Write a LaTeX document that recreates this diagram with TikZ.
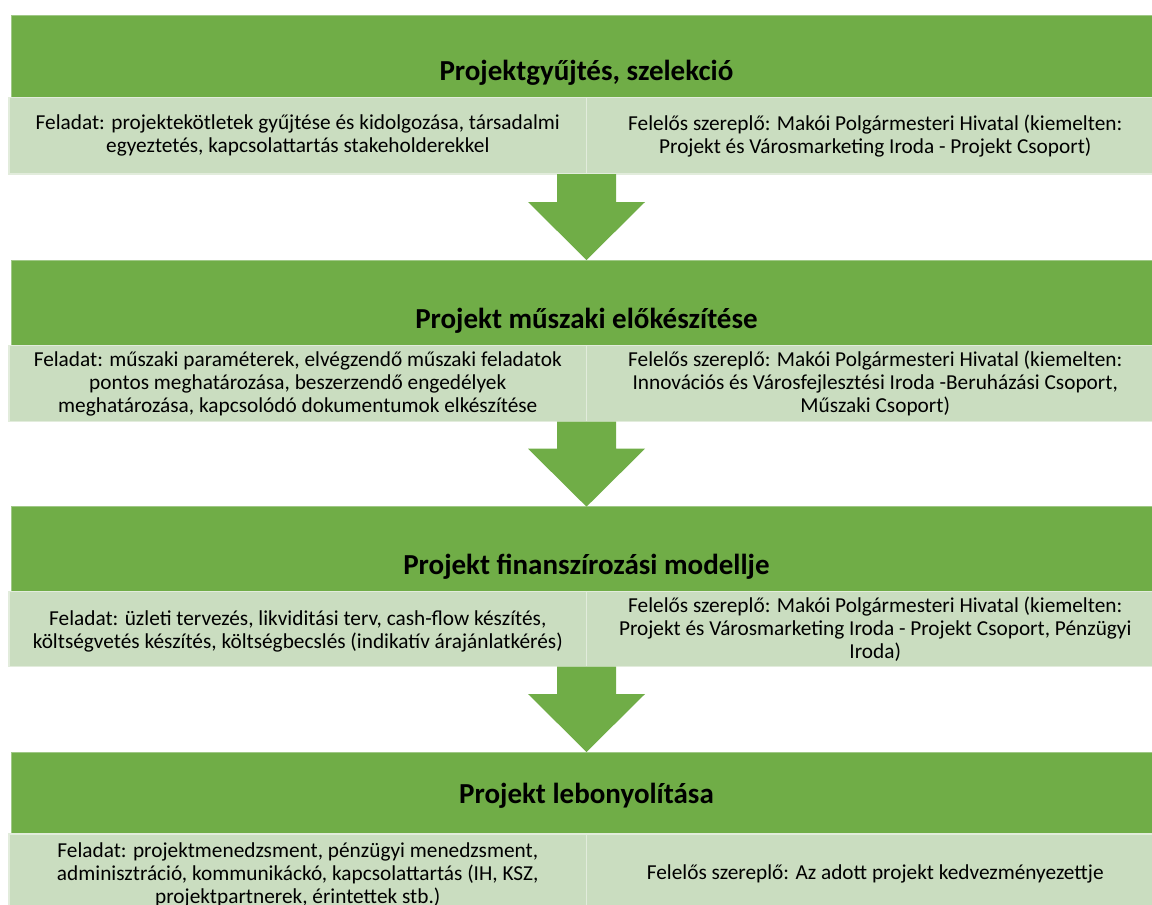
\documentclass[tikz,border=0pt]{standalone}
\usepackage{fontspec}
\setmainfont{Carlito}
\usetikzlibrary{calc}
\definecolor{band}{RGB}{112,173,71}
\definecolor{cell}{RGB}{202,221,192}
\definecolor{cellline}{RGB}{226,236,220}
\definecolor{bandline}{RGB}{160,200,135}
\begin{document}
\begin{tikzpicture}[x=1pt,y=-1pt,
  bandbox/.style={fill=band, draw=bandline, line width=0.8pt, inner sep=0pt, outer sep=0pt,
    minimum width=1151pt, anchor=north west},
  cellbox/.style={fill=cell, draw=cellline, line width=1.2pt, inner sep=0pt, outer sep=0pt,
    minimum width=577.5pt, anchor=north west},
  titletext/.style={font=\fontsize{29}{34}\selectfont\bfseries, text=black, inner sep=0pt, anchor=base},
  celltext/.style={font=\fontsize{21.3}{23}\selectfont, text=black, align=center, inner sep=0pt},
  flowarrow/.style={fill=band, draw=none}
]
\useasboundingbox (0,0) rectangle (1152,905);
\clip (0,0) rectangle (1152,905);
\fill[white] (0,0) rectangle (1152,905);

% ---- Block 1
\node[bandbox, minimum height=82.3pt] (b1) at (11,15) {};
\node[cellbox, minimum height=76.7pt] (l1) at (9,97.3) {};
\node[cellbox, minimum height=76.7pt] (r1) at (586.5,97.3) {};
\node[titletext] (t1) at ($(b1.south)+(0,-17)$) {Projektgyűjtés, szelekció};
\node[celltext] (lt1) at (l1.center) {Feladat: projektekötletek gyűjtése és kidolgozása, társadalmi\\egyeztetés, kapcsolattartás stakeholderekkel};
\node[celltext] (rt1) at (r1.center) {Felelős szereplő: Makói Polgármesteri Hivatal (kiemelten:\\Projekt és Városmarketing Iroda - Projekt Csoport)};

% ---- Block 2
\node[bandbox, minimum height=85.7pt] (b2) at (11,260) {};
\node[cellbox, minimum height=76pt] (l2) at (9,345.7) {};
\node[cellbox, minimum height=76pt] (r2) at (586.5,345.7) {};
\node[titletext] (t2) at ($(b2.south)+(0,-17)$) {Projekt műszaki előkészítése};
\node[celltext] (lt2) at (l2.center) {Feladat: műszaki paraméterek, elvégzendő műszaki feladatok\\pontos meghatározása, beszerzendő engedélyek\\meghatározása, kapcsolódó dokumentumok elkészítése};
\node[celltext] (rt2) at (r2.center) {Felelős szereplő: Makói Polgármesteri Hivatal (kiemelten:\\Innovációs és Városfejlesztési Iroda -Beruházási Csoport,\\Műszaki Csoport)};

% ---- Block 3
\node[bandbox, minimum height=85pt] (b3) at (11,506.7) {};
\node[cellbox, minimum height=75pt] (l3) at (9,591.7) {};
\node[cellbox, minimum height=75pt] (r3) at (586.5,591.7) {};
\node[titletext] (t3) at ($(b3.south)+(0,-17)$) {Projekt finanszírozási modellje};
\node[celltext] (lt3) at ($(l3.center)+(0,2.5)$) {Feladat: üzleti tervezés, likviditási terv, cash-flow készítés,\\költségvetés készítés, költségbecslés (indikatív árajánlatkérés)};
\node[celltext] (rt3) at (r3.center) {Felelős szereplő: Makói Polgármesteri Hivatal (kiemelten:\\Projekt és Városmarketing Iroda - Projekt Csoport, Pénzügyi\\Iroda)};

% ---- Block 4
\node[bandbox, minimum height=82pt] (b4) at (11,752) {};
\node[cellbox, minimum height=80pt] (l4) at (9,834) {};
\node[cellbox, minimum height=80pt] (r4) at (586.5,834) {};
\node[titletext] (t4) at ($(b4.south)+(0,-31)$) {Projekt lebonyolítása};
\node[celltext] (lt4) at ($(l4.center)+(0,0.5)$) {Feladat: projektmenedzsment, pénzügyi menedzsment,\\adminisztráció, kommunikáckó, kapcsolattartás (IH, KSZ,\\projektpartnerek, érintettek stb.)};
\node[celltext] (rt4) at (r4.center) {Felelős szereplő: Az adott projekt kedvezményezettje};

% ---- Arrows between blocks
\foreach \up/\down in {r1/b2, r2/b3, r3/b4}{
  \coordinate (s) at (\up.south west);
  \coordinate (e) at (\down.north -| \up.south west);
  \fill[flowarrow] ($(s)+(-29.5,0)$) -- ($(s)+(29.5,0)$)
     -- ($(e)+(29.5,-58)$) -- ($(e)+(58.5,-58)$) -- (e)
     -- ($(e)+(-58.5,-58)$) -- ($(e)+(-29.5,-58)$) -- cycle;
}
\end{tikzpicture}
\end{document}
